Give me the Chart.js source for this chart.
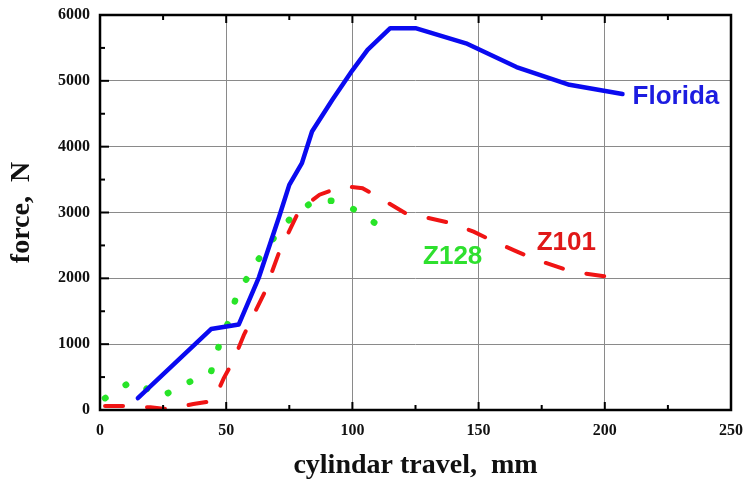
<!DOCTYPE html>
<html>
<head>
<meta charset="utf-8">
<script src="https://cdn.jsdelivr.net/npm/chart.js@4.4.1/dist/chart.umd.min.js"></script>
<style>
  html, body { margin: 0; padding: 0; background: #fff; }
  #wrap { width: 748px; height: 483px; }
</style>
</head>
<body>
<div id="wrap"><canvas id="chart_force"></canvas></div>
<script>
// cylinder travel (mm) vs force (N)
const floridaX = [15, 44, 55, 63, 71, 75, 80, 84, 92, 100, 106, 115, 125, 145, 165, 186, 207];
const floridaY = [180, 1230, 1300, 2020, 2940, 3420, 3750, 4230, 4710, 5160, 5470, 5800, 5800, 5570, 5210, 4940, 4800];

const z101X = [2, 10, 20, 25, 28, 37, 45, 49, 53, 57, 65, 71, 79, 87, 96, 104, 114, 121, 131, 139, 148, 156, 165, 173, 184, 191, 200, 207];
const z101Y = [60, 60, 40, 20, 20, 90, 140, 480, 760, 1140, 1770, 2400, 3040, 3270, 3400, 3370, 3150, 2990, 2910, 2840, 2710, 2560, 2410, 2280, 2140, 2080, 2030, 1990];

const z128X = [2, 13, 24, 34, 44, 47, 51, 54, 60, 66, 75, 85, 95, 105, 116];
const z128Y = [180, 450, 200, 400, 580, 960, 1350, 1720, 2120, 2480, 2890, 3190, 3170, 2950, 2640];

const xTicks = [0, 50, 100, 150, 200, 250];
const yTicks = [0, 1000, 2000, 3000, 4000, 5000, 6000];

// series name labels placed next to the curves (data coords of the text's left/middle)
const seriesLabels = [
    { text: "Florida", x: 211, y: 4750, color: "#1c1ce0" },
    { text: "Z101", x: 173, y: 2540, color: "#e01818" },
    { text: "Z128", x: 128, y: 2330, color: "#2ee02e" }
];

function pts(xs, ys) {
    return xs.map(function (x, i) { return { x: x, y: ys[i] }; });
}

const framePlugin = {
    id: "frame",
    afterDraw: function (chart) {
        const ctx = chart.ctx;
        const a = chart.chartArea;
        const xs = chart.scales.x, ys = chart.scales.y;
        ctx.save();
        ctx.strokeStyle = "#000";
        ctx.lineWidth = 2;
        // inward ticks, top and bottom
        for (let v = 0; v <= 250; v += 25) {
            const px = xs.getPixelForValue(v);
            const len = (v % 50 === 0) ? 8 : 5;
            ctx.beginPath();
            ctx.moveTo(px, a.bottom); ctx.lineTo(px, a.bottom - len);
            ctx.moveTo(px, a.top); ctx.lineTo(px, a.top + len);
            ctx.stroke();
        }
        // inward ticks, left
        for (let v = 0; v <= 6000; v += 500) {
            const py = ys.getPixelForValue(v);
            const len = (v % 1000 === 0) ? 9 : 5;
            ctx.beginPath();
            ctx.moveTo(a.left, py); ctx.lineTo(a.left + len, py);
            ctx.stroke();
        }
        ctx.lineWidth = 2.5;
        ctx.strokeRect(a.left, a.top, a.right - a.left, a.bottom - a.top);
        // series labels
        ctx.font = "bold 26px 'Liberation Sans', Arial, sans-serif";
        ctx.textBaseline = "middle";
        ctx.textAlign = "left";
        seriesLabels.forEach(function (l) {
            ctx.fillStyle = l.color;
            ctx.fillText(l.text, xs.getPixelForValue(l.x), ys.getPixelForValue(l.y));
        });
        ctx.restore();
    }
};

document.addEventListener('DOMContentLoaded', function () {
    new Chart("chart_force", {
        type: "line",
        data: {
            datasets: [
                {
                    label: "Florida",
                    data: pts(floridaX, floridaY),
                    borderColor: "#0a0af0",
                    borderWidth: 4.5,
                    pointRadius: 0,
                    tension: 0,
                    borderJoinStyle: "round",
                    borderCapStyle: "round",
                },
                {
                    label: "Z101",
                    data: pts(z101X, z101Y),
                    borderColor: "#f01414",
                    borderWidth: 4,
                    borderDash: [18, 24],
                    borderCapStyle: "round",
                    pointRadius: 0,
                    tension: 0,
                },
                {
                    label: "Z128",
                    data: pts(z128X, z128Y),
                    borderColor: "#28e428",
                    borderWidth: 6.5,
                    borderDash: [0.5, 24],
                    borderCapStyle: "round",
                    pointRadius: 0,
                    tension: 0,
                },
            ],
        },
        options: {
            responsive: true,
            maintainAspectRatio: false,
            animation: false,
            layout: { padding: { top: 15, right: 17, left: 0, bottom: 0 } },
            plugins: {
                legend: { display: false },
                tooltip: { enabled: false },
            },
            scales: {
                x: {
                    type: "linear",
                    min: 0, max: 250,
                    afterBuildTicks: function (s) { s.ticks = xTicks.map(function (v) { return { value: v }; }); },
                    afterFit: function (s) { s.height = 73; s.paddingLeft = 0; s.paddingRight = 0; },
                    grid: { color: "#8a8a8a", lineWidth: 1, drawTicks: false },
                    border: { display: false },
                    ticks: {
                        padding: 11,
                        color: "#111",
                        callback: function (v) { return String(v); },
                        font: { family: "'Liberation Serif', 'Times New Roman', serif", size: 16, weight: "bold" },
                    },
                    title: {
                        display: true,
                        text: "cylindar travel,  mm",
                        color: "#111",
                        padding: { top: 0, bottom: 0 },
                        font: { family: "'Liberation Serif', 'Times New Roman', serif", size: 28, weight: "bold" },
                    },
                },
                y: {
                    type: "linear",
                    min: 0, max: 6000,
                    afterBuildTicks: function (s) { s.ticks = yTicks.map(function (v) { return { value: v }; }); },
                    afterFit: function (s) { s.width = 100; s.paddingTop = 0; s.paddingBottom = 0; },
                    grid: { color: "#8a8a8a", lineWidth: 1, drawTicks: false },
                    border: { display: false },
                    ticks: {
                        padding: 10,
                        color: "#111",
                        callback: function (v) { return String(v); },
                        font: { family: "'Liberation Serif', 'Times New Roman', serif", size: 16, weight: "bold" },
                    },
                    title: {
                        display: true,
                        text: "force,  N",
                        color: "#111",
                        padding: { top: 5, bottom: 0 },
                        font: { family: "'Liberation Serif', 'Times New Roman', serif", size: 28, weight: "bold" },
                    },
                },
            },
        },
        plugins: [framePlugin],
    });
});
</script>
</body>
</html>
